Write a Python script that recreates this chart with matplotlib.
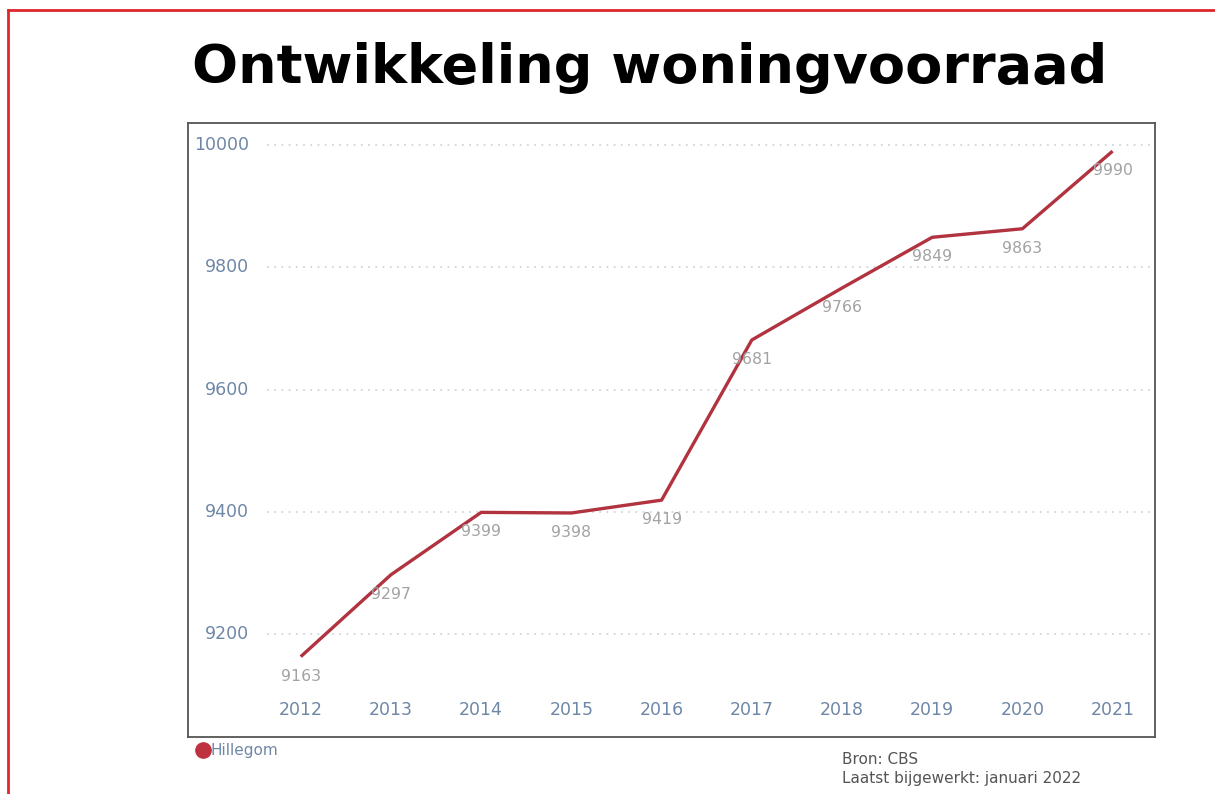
import matplotlib.pyplot as plt
from matplotlib.lines import Line2D

years = [2012, 2013, 2014, 2015, 2016, 2017, 2018, 2019, 2020, 2021]
woningen = [9163, 9297, 9399, 9398, 9419, 9681, 9766, 9849, 9863, 9990]
y_ticks = [9200, 9400, 9600, 9800, 10000]

line_color = "#b23340"
tick_color = "#6f87a6"
label_color = "#a3a3a3"

fig = plt.figure(figsize=(12.15, 7.94), dpi=100)
ax = fig.add_axes([188/1215, 1-737/794, (1155-188)/1215, (737-123)/794])

ax.set_xlim(2010.75, 2021.47)
ax.set_ylim(9031.5, 10036)

# dotted grid lines
for t in y_ticks:
    ax.plot([2011.63, 2021.42], [t, t], color="#d0d5db", linestyle=(0, (1, 3)), linewidth=1.3, zorder=1)
    ax.text(2011.43, t, str(t), ha="right", va="center", color=tick_color, fontsize=12.5)

for yr in years:
    ax.text(yr, 9075, str(yr), ha="center", va="center", color=tick_color, fontsize=12.5)

ax.plot(years, woningen, color=line_color, linewidth=2.4, zorder=3, solid_capstyle="butt")

for yr, v in zip(years, woningen):
    ax.annotate(str(v), (yr, v), xytext=(0, -14), textcoords="offset points",
                ha="center", va="center", color=label_color, fontsize=11.3, zorder=4)

ax.set_xticks([])
ax.set_yticks([])
for s in ax.spines.values():
    s.set_color("#555555")
    s.set_linewidth(1.3)

fig.text(650/1215, 1-68/794, "Ontwikkeling woningvoorraad", ha="center", va="center",
         fontsize=39, fontweight="bold", color="black")

# legend
fig.add_artist(Line2D([203/1215], [1-750/794], marker="o", markersize=11,
                      color="#c0313f", linestyle="none"))
fig.text(211/1215, 1-750/794, "Hillegom", ha="left", va="center", color=tick_color, fontsize=11)

fig.text(842/1215, 1-760/794, "Bron: CBS", ha="left", va="center", color="#555555", fontsize=11)
fig.text(842/1215, 1-778/794, "Laatst bijgewerkt: januari 2022", ha="left", va="center",
         color="#555555", fontsize=11)

# red screenshot frame
fig.add_artist(Line2D([8/1215, 1], [1-10/794, 1-10/794], color="#e0262e", linewidth=2))
fig.add_artist(Line2D([8/1215, 8/1215], [0, 1-10/794], color="#e0262e", linewidth=2))

fig.savefig("out.png", dpi=100)
